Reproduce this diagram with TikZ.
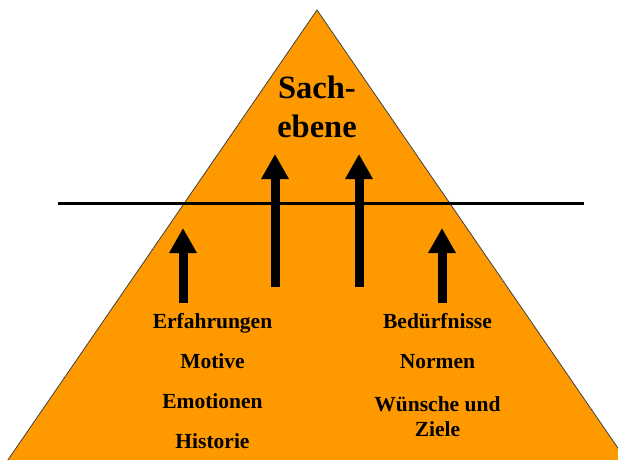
\documentclass[tikz,border=0pt]{standalone}
\usepackage{fontspec}
\setmainfont{Liberation Serif}
\usetikzlibrary{arrows.meta}
\definecolor{pyr}{RGB}{255,153,0}
\tikzset{
  bigarrow/.style={line width=9pt, -{Triangle[width=26pt,length=25pt]}},
  lbl/.style={font=\bfseries\fontsize{21.5}{24}\selectfont, anchor=base, inner sep=0pt, text=black},
  title/.style={font=\bfseries\fontsize{32.5}{38}\selectfont, anchor=base, inner sep=0pt, text=black},
  divider/.style={line width=3pt, black}
}
\begin{document}
\begin{tikzpicture}[x=1pt,y=-1pt]
\useasboundingbox (0,0) rectangle (618,459);
\begin{scope}
\clip (0,0) rectangle (618,459);
\fill[pyr, draw=black!75, line width=0.8pt] (317,10) -- (1,470) -- (633,470) -- cycle;
\end{scope}
% divider line
\coordinate (dl) at (58,203);
\coordinate (dr) at (584,203);
\draw[divider] (dl) -- (dr);
% arrows
\coordinate (b1s) at (275,287); \coordinate (b1e) at (275,154);
\coordinate (b2s) at (359,287); \coordinate (b2e) at (359,154);
\coordinate (s1s) at (183,303); \coordinate (s1e) at (183,228);
\coordinate (s2s) at (442,303); \coordinate (s2e) at (442,228);
\draw[bigarrow] (b1s) -- (b1e);
\draw[bigarrow] (b2s) -- (b2e);
\draw[bigarrow] (s1s) -- (s1e);
\draw[bigarrow] (s2s) -- (s2e);
% title
\node[title] (t1) at (317,98) {Sach-};
\node[title] (t2) at (317,137) {ebene};
% left column
\node[lbl] (l1) at (212.5,328) {Erfahrungen};
\node[lbl] (l2) at (212.5,368.5) {Motive};
\node[lbl] (l3) at (212.5,408) {Emotionen};
\node[lbl] (l4) at (212.5,448.5) {Historie};
% right column
\node[lbl] (r1) at (437.5,328) {Bedürfnisse};
\node[lbl] (r2) at (437.5,368.5) {Normen};
\node[lbl] (r3) at (437.5,411) {Wünsche und};
\node[lbl] (r4) at (437.5,436) {Ziele};
\end{tikzpicture}
\end{document}
